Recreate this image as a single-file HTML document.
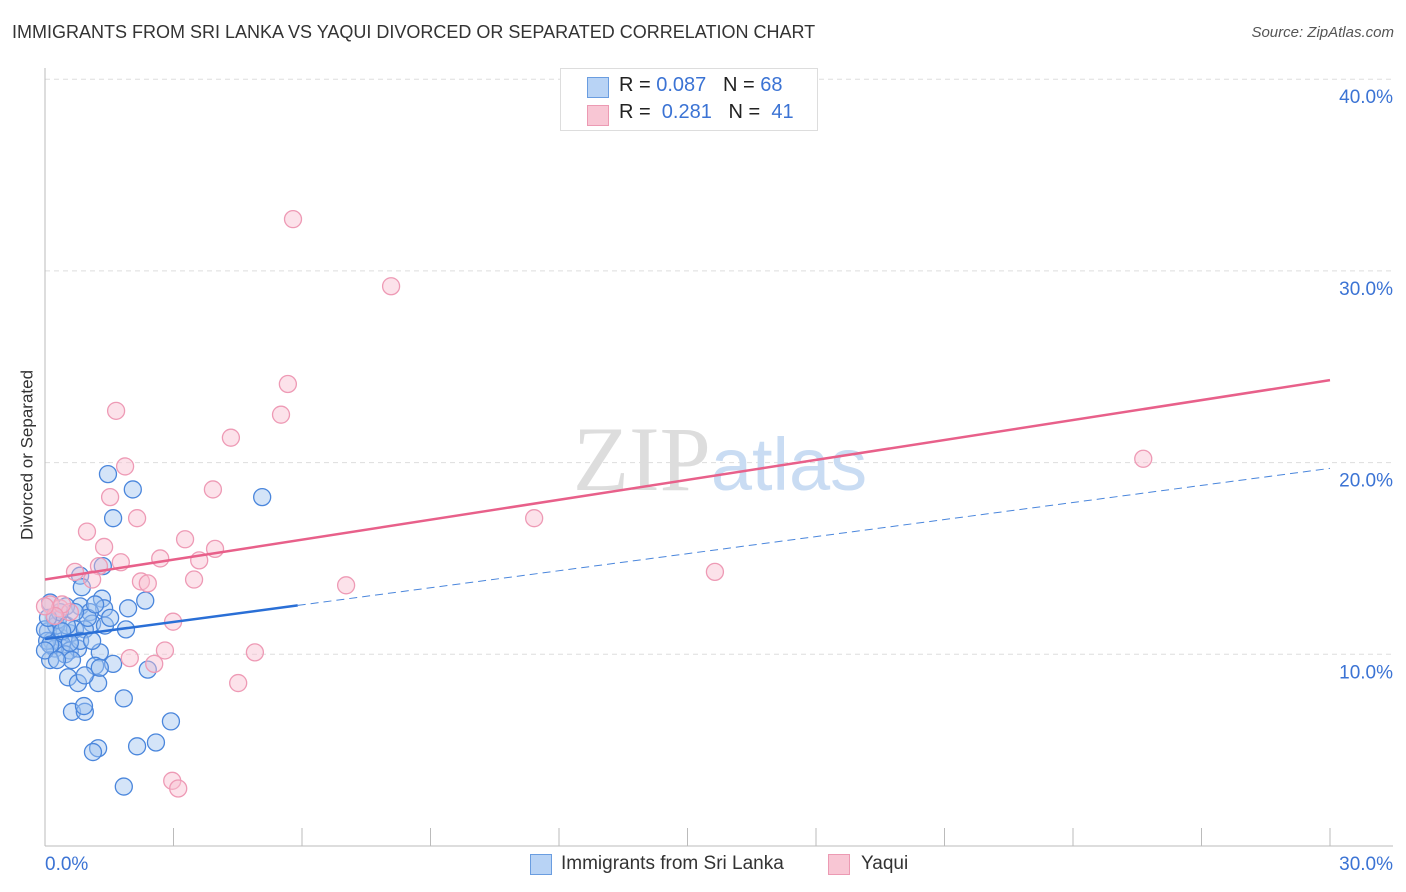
<!DOCTYPE html>
<html><head><meta charset="utf-8"><style>
body{margin:0;background:#fff;font-family:"Liberation Sans",sans-serif;}
#root{position:relative;width:1406px;height:892px;overflow:hidden;}
.t{position:absolute;white-space:nowrap;}
</style></head><body>
<div id="root">
<div class="t" style="left:12px;top:22px;font-size:18px;color:#333;">IMMIGRANTS FROM SRI LANKA VS YAQUI DIVORCED OR SEPARATED CORRELATION CHART</div>
<div class="t" style="right:12px;top:24px;font-size:15px;color:#555;font-style:italic;">Source: ZipAtlas.com</div>
<div class="t" style="left:-60px;top:445px;font-size:17px;color:#333;transform:rotate(-90deg);width:175px;text-align:center;">Divorced or Separated</div>
<svg id="chart" width="1406" height="892" style="position:absolute;left:0;top:0"></svg>
<div style="position:absolute;left:560px;top:68px;width:256px;height:61px;border:1px solid #ddd;background:#fff;">
 <div style="position:absolute;left:26px;top:8px;width:20px;height:19px;background:#b8d3f5;border:1px solid #6a9de0;"></div>
 <div class="t" style="left:58px;top:5px;font-size:20px;color:#222;">R = <span style="color:#3b73d4">0.087</span> &nbsp; N = <span style="color:#3b73d4">68</span></div>
 <div style="position:absolute;left:26px;top:36px;width:20px;height:19px;background:#f8c6d4;border:1px solid #ec9ab3;"></div>
 <div class="t" style="left:58px;top:32px;font-size:20px;color:#222;">R = &nbsp;<span style="color:#3b73d4">0.281</span> &nbsp; N = &nbsp;<span style="color:#3b73d4">41</span></div>
</div>
<div style="position:absolute;left:528px;top:852px;height:26px;width:400px;">
 <div style="position:absolute;left:2px;top:2px;width:20px;height:19px;background:#b8d3f5;border:1px solid #6a9de0;"></div>
 <div class="t" style="left:33px;top:1px;font-size:19px;color:#333;">Immigrants from Sri Lanka</div>
 <div style="position:absolute;left:300px;top:2px;width:20px;height:19px;background:#f8c6d4;border:1px solid #ec9ab3;"></div>
 <div class="t" style="left:333px;top:1px;font-size:19px;color:#333;">Yaqui</div>
</div>
</div>
<script>
const blueX=[1.47,2.05,1.59,5.07,1.35,0.82,0.86,2.34,1.33,1.38,1.94,0.82,0.49,1.05,1.10,1.89,1.40,0.12,0.23,0.07,0.16,0.35,0.58,0.70,0.93,0.40,0.58,0.77,0.23,0.47,0.63,1.28,1.59,1.17,2.40,0.54,0.77,1.24,1.84,0.63,0.93,0.91,1.24,1.12,2.15,2.59,2.94,1.84,0.26,0.05,0.30,1.00,0.35,0.51,0.82,1.52,0.0,0.12,1.10,1.17,0.70,0.12,0.93,1.28,0,0.40,0.07,0.58,0.28];
const blueY=[19.4,18.6,17.1,18.2,14.6,14.1,13.5,12.8,12.9,12.4,12.4,12.5,12.5,12.2,11.6,11.3,11.5,12.7,11.9,11.2,10.7,10.9,11.1,11.3,11.3,10.5,10.2,10.3,10.3,10.0,9.7,10.1,9.5,9.4,9.2,8.8,8.5,8.5,7.7,7.0,7.0,7.3,5.1,4.9,5.2,5.4,6.5,3.1,11.5,10.7,11.8,11.9,12.2,11.5,10.7,11.9,11.3,9.7,10.7,12.6,12.2,10.5,8.9,9.3,10.2,11.2,11.9,10.6,9.7];
const pinkX=[5.79,8.08,5.67,1.66,5.51,4.34,1.87,1.52,2.15,3.92,0.98,11.42,25.64,1.38,3.27,3.97,2.69,3.60,1.77,1.26,0.70,1.10,2.24,2.40,3.48,7.03,15.64,2.99,2.80,4.90,1.98,2.55,4.51,2.97,3.11,0.12,0.35,0.58,0.40,0.23,0.0];
const pinkY=[32.7,29.2,24.1,22.7,22.5,21.3,19.8,18.2,17.1,18.6,16.4,17.1,20.2,15.6,16.0,15.5,15.0,14.9,14.8,14.6,14.3,13.9,13.8,13.7,13.9,13.6,14.3,11.7,10.2,10.1,9.8,9.5,8.5,3.4,3.0,12.6,12.4,12.2,12.6,12.0,12.5];
const yTicks=[10,20,30,40];
const yTickLabels=["10.0%","20.0%","30.0%","40.0%"];
const xTickVals=[0,3,6,9,12,15,18,21,24,27,30];
const blueTrend=[10.8,19.7];
const blueSolidEnd=5.9;
const pinkTrend=[13.9,24.3];

const NS="http://www.w3.org/2000/svg";
const svg=document.getElementById('chart');
const X=v=>45+v/30*1285;
const Y=v=>846-v*19.17;
function mk(tag,attrs){const e=document.createElementNS(NS,tag);for(const k in attrs)e.setAttribute(k,attrs[k]);svg.appendChild(e);return e;}

yTicks.forEach((t,i)=>{
 const g=mk('line',{x1:45,x2:1393,y1:Y(t),y2:Y(t),stroke:'#ddd','stroke-dasharray':'5,4'});
 
 
 const tx=mk('text',{x:1393,y:Y(t)+24,'text-anchor':'end','font-size':19,fill:'#3b73d4','font-family':'Liberation Sans, sans-serif'});
 tx.textContent=yTickLabels[i];
 
 
});
const ax=mk('line',{x1:45,x2:45,y1:68,y2:846,stroke:'#bbb'});


const bx=mk('line',{x1:45,x2:1393,y1:846,y2:846,stroke:'#bbb'});


xTickVals.forEach(v=>{
 const l=mk('line',{x1:X(v),x2:X(v),y1:828,y2:846,stroke:'#bbb'});
 
 
});
const x0=mk('text',{x:45,y:870,'font-size':19,fill:'#3b73d4','font-family':'Liberation Sans, sans-serif'});
x0.textContent='0.0%';


const x1=mk('text',{x:1393,y:870,'text-anchor':'end','font-size':19,fill:'#3b73d4','font-family':'Liberation Sans, sans-serif'});
x1.textContent='30.0%';



const wm=mk('text',{x:720,y:490,'text-anchor':'middle','font-size':92,'font-family':'Liberation Serif, serif',fill:'#ddd'});
wm.innerHTML='ZIP<tspan fill="#c9dcf3" font-family="Liberation Sans, sans-serif" font-size="74">atlas</tspan>';



blueX.forEach((v,i)=>{
 const c=mk('circle',{cx:X(v),cy:Y(blueY[i]),r:8.5,fill:'rgba(160,196,240,0.45)',stroke:'#4a86dc','stroke-width':1.3});
 
 
});
pinkX.forEach((v,i)=>{
 const c=mk('circle',{cx:X(v),cy:Y(pinkY[i]),r:8.5,fill:'rgba(248,190,208,0.45)',stroke:'#ee9ab5','stroke-width':1.3});
 
 
});
const bt=v=>blueTrend[0]+(blueTrend[1]-blueTrend[0])*v/30;
const bs=mk('line',{x1:X(0),y1:Y(bt(0)),x2:X(blueSolidEnd),y2:Y(bt(blueSolidEnd)),stroke:'#2a6fd6','stroke-width':2.5});


const bd=mk('line',{x1:X(blueSolidEnd),y1:Y(bt(blueSolidEnd)),x2:X(30),y2:Y(bt(30)),stroke:'#4a86dc','stroke-width':1,'stroke-dasharray':'8,5'});


const pt=mk('line',{x1:X(0),y1:Y(pinkTrend[0]),x2:X(30),y2:Y(pinkTrend[1]),stroke:'#e8608a','stroke-width':2.5});


</script>
</body></html>
